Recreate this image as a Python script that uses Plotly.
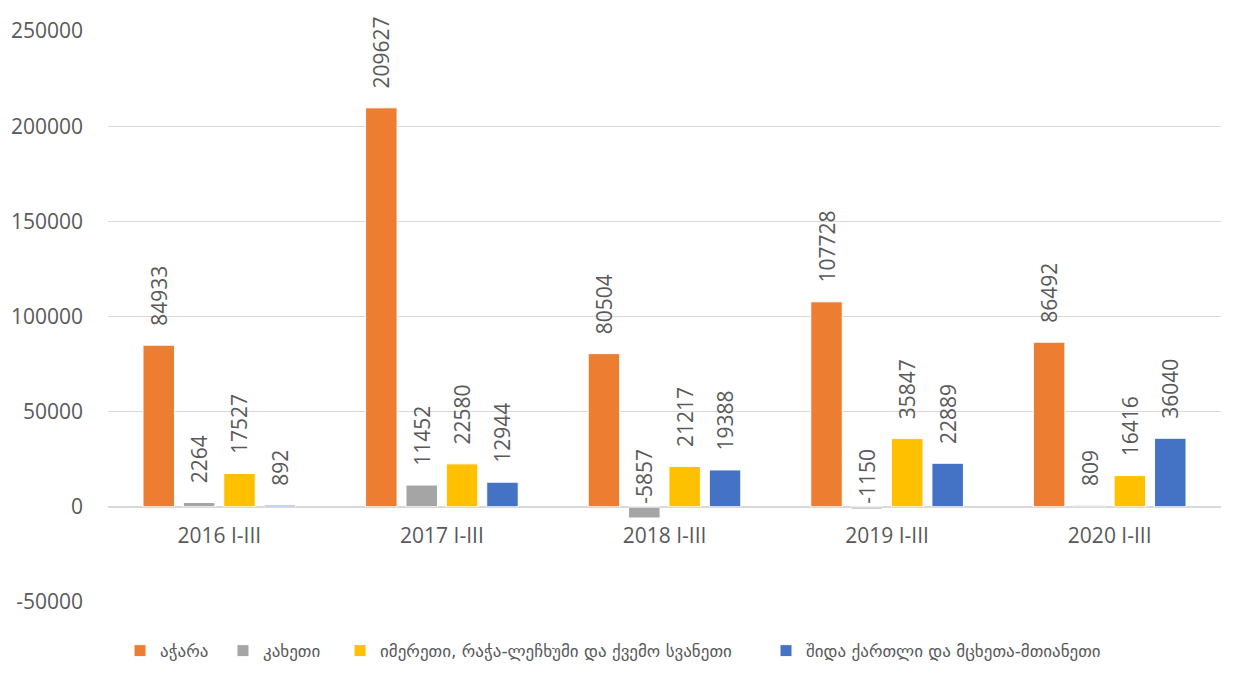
import plotly.graph_objects as go

categories = ['2016 I-III', '2017 I-III', '2018 I-III', '2019 I-III', '2020 I-III']
adjara = [84933, 209627, 80504, 107728, 86492]
kakheti = [2264, 11452, -5857, -1150, 809]
imereti = [17527, 22580, 21217, 35847, 16416]
shida_kartli = [892, 12944, 19388, 22889, 36040]

y_ticks = [-50000, 0, 50000, 100000, 150000, 200000, 250000]
y_tick_text = ['-50000', '0', '50000', '100000', '150000', '200000', '250000']

series = [
    ('აჭარა', adjara, '#ED7D31'),
    ('კახეთი', kakheti, '#A5A5A5'),
    ('იმერეთი, რაჭა-ლეჩხუმი და ქვემო სვანეთი', imereti, '#FFC000'),
    ('შიდა ქართლი და მცხეთა-მთიანეთი', shida_kartli, '#4472C4'),
]
# one legend per series so the entries can be spaced like in Excel
legend_x = [0.0108, 0.1033, 0.2085, 0.5912]

txt_color = '#595959'
label_font = dict(family='Open Sans, DejaVu Sans', size=21, color=txt_color)
pad = '\u00a0\u00a0\u00a0'  # gap between bar end and label, like Excel

fig = go.Figure()
for i, (name, vals, color) in enumerate(series):
    leg = 'legend' if i == 0 else 'legend%d' % (i + 1)
    fig.add_trace(go.Bar(
        x=categories, y=vals, name=name, offsetgroup=str(i), legend=leg,
        marker=dict(color=color, line=dict(color='white', width=1)),
        text=[pad + str(v) if v >= 0 else '' for v in vals],
        textposition='outside', textangle=-90, constraintext='none',
        textfont=label_font, cliponaxis=False,
    ))
    # Excel puts labels of negative bars above the zero line
    if any(v < 0 for v in vals):
        fig.add_trace(go.Bar(
            x=categories, y=[0 if v < 0 else None for v in vals],
            offsetgroup=str(i), showlegend=False, hoverinfo='skip',
            marker=dict(color='rgba(0,0,0,0)'),
            text=[str(v) if v < 0 else '' for v in vals],
            textposition='outside', textangle=-90, constraintext='none',
            textfont=label_font, cliponaxis=False,
        ))

# page body has an 8px margin, so the figure is made 8px smaller
fig.update_layout(
    width=1244, height=676,
    barmode='group', bargap=0.2745, bargroupgap=0.22,
    plot_bgcolor='white', paper_bgcolor='white',
    margin=dict(l=100, r=31, t=23, b=82),
    font=dict(family='Open Sans, DejaVu Sans', color=txt_color),
    showlegend=True,
)
for i, x in enumerate(legend_x):
    key = 'legend' if i == 0 else 'legend%d' % (i + 1)
    fig.update_layout({key: dict(
        orientation='h', x=x, xanchor='left', y=-0.086, yanchor='middle',
        font=dict(family='DejaVu Sans', size=17, color=txt_color),
        itemwidth=30, bgcolor='rgba(0,0,0,0)',
    )})

fig.update_xaxes(
    anchor='free', position=1 / 6, showline=True, linecolor='#D9D9D9', linewidth=1,
    showgrid=False, ticks='', tickfont=dict(size=21, color=txt_color),
    ticklabelstandoff=10, automargin=False,
)
fig.update_yaxes(
    range=[-50000, 250000], tickvals=y_ticks, ticktext=y_tick_text,
    showgrid=True, gridcolor='#D9D9D9', gridwidth=1, zeroline=False,
    tickfont=dict(size=21, color=txt_color), ticklabelstandoff=24, automargin=False,
)

fig.write_html("out.html")
